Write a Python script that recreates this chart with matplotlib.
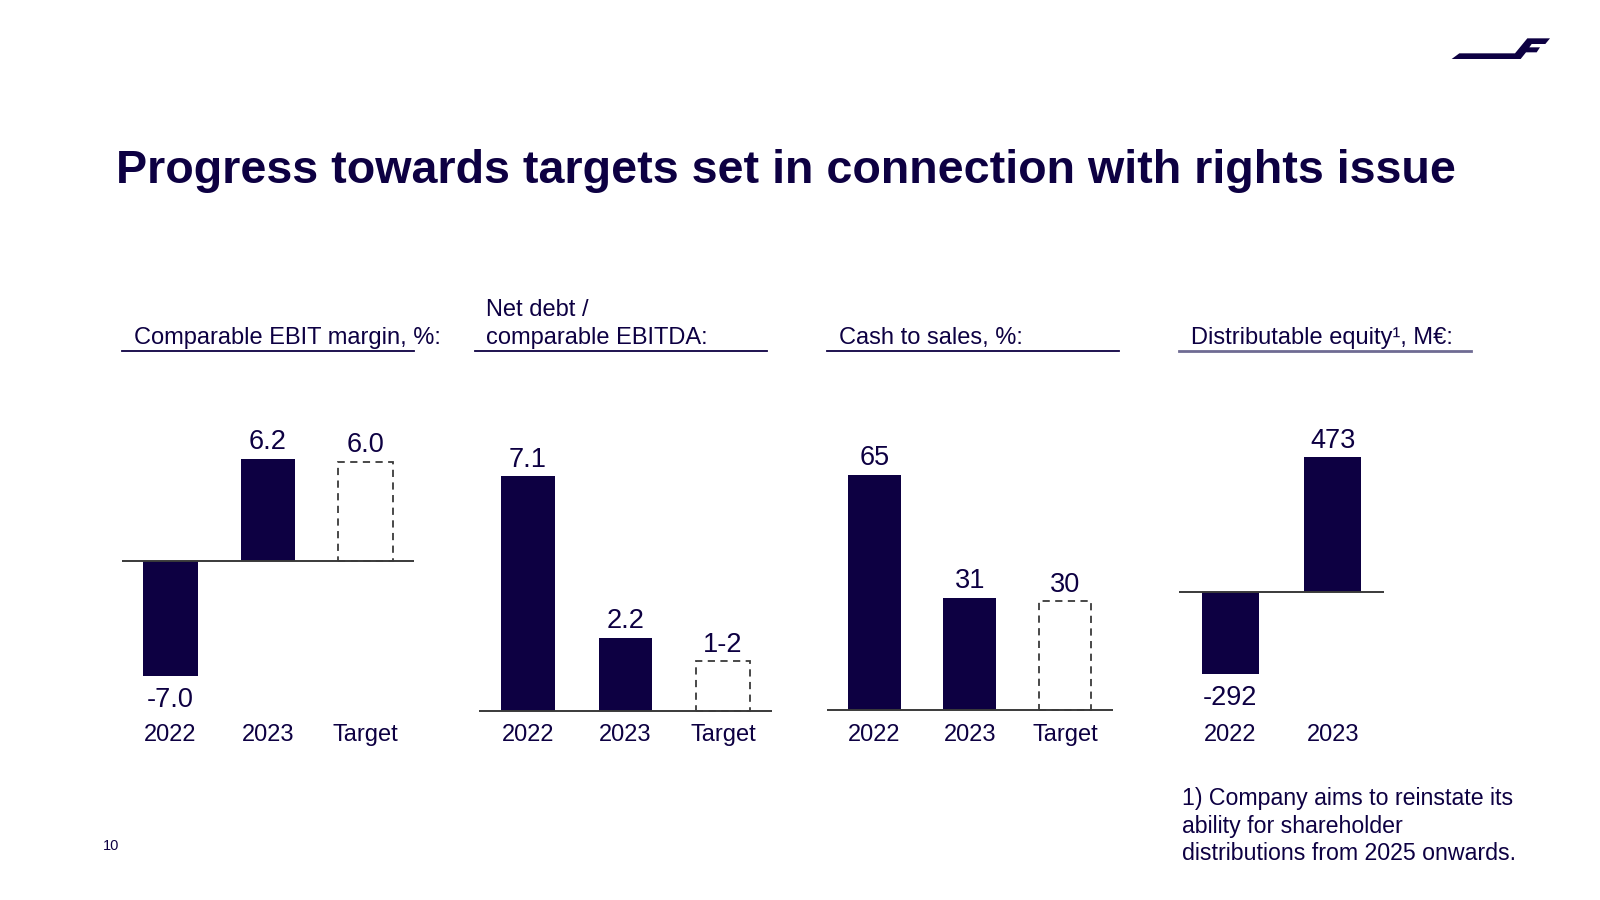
import matplotlib
matplotlib.use("Agg")
import matplotlib.pyplot as plt
from matplotlib.lines import Line2D
from matplotlib.patches import Polygon
from matplotlib.transforms import blended_transform_factory

plt.rcParams['font.family'] = ['Liberation Sans', 'DejaVu Sans']

NAVY = '#0d0042'
GREY = '#3a3a3a'

# --- data -------------------------------------------------------------
title = "Progress towards targets set in connection with rights issue"

headers = [
    ["Comparable EBIT margin, %:"],
    ["Net debt /", "comparable EBITDA:"],
    ["Cash to sales, %:"],
    ["Distributable equity\u00b9, M\u20ac:"],
]

ebit_years = ["2022", "2023", "Target"]
ebit_values = [-7.0, 6.2]
ebit_target = 6.0
ebit_labels = ["-7.0", "6.2", "6.0"]

debt_years = ["2022", "2023", "Target"]
debt_values = [7.1, 2.2]
debt_target = 1.5          # target range 1-2, box drawn at mid-point
debt_labels = ["7.1", "2.2", "1-2"]

cash_years = ["2022", "2023", "Target"]
cash_values = [65, 31]
cash_target = 30
cash_labels = ["65", "31", "30"]

equity_years = ["2022", "2023"]
equity_values = [-292, 473]
equity_labels = ["-292", "473"]

footnote = ["1) Company aims to reinstate its",
            "ability for shareholder",
            "distributions from 2025 onwards."]
page_number = "10"

# --- layout (pixels on a 1600x900 canvas) -----------------------------
W, H = 1600, 900
fig = plt.figure(figsize=(16, 9), dpi=100)
fig.patch.set_facecolor('white')


def fx(x):
    return x / W


def fy(y):
    return 1 - y / H


def make_axes(left, right, base, px_per_unit, top=380, bottom=770, n=3):
    ax = fig.add_axes([fx(left), fy(bottom), (right - left) / W, (bottom - top) / H])
    ax.set_xlim(-0.5, n - 0.5)
    ax.set_ylim(-(bottom - base) / px_per_unit, (base - top) / px_per_unit)
    ax.axis('off')
    ax.axhline(0, color=GREY, lw=1.4)
    return ax


def draw_panel(ax, years, values, labels, target=None, width=0.56):
    xs = list(range(len(values)))
    ax.bar(xs, values, width=width, color=NAVY, edgecolor='none')
    if target is not None:
        ax.bar(len(values), target, width=width, fill=False,
               edgecolor=GREY, linestyle=(0, (4, 3)), lw=1.3)
    tops = list(values) + ([target] if target is not None else [])
    for i, (v, lab) in enumerate(zip(tops, labels)):
        off = 9.5 if v >= 0 else -31
        ax.annotate(lab, xy=(i, v), xytext=(0, off), textcoords='offset pixels',
                    ha='center', va='baseline', fontsize=19.5, color=NAVY)
    tr = blended_transform_factory(ax.transData, fig.transFigure)
    for i, yr in enumerate(years):
        ax.text(i, fy(741), yr, transform=tr, ha='center', va='baseline',
                fontsize=17, color=NAVY)


ax1 = make_axes(121.7, 414, 560.5, 16.45)
draw_panel(ax1, ebit_years, ebit_values, ebit_labels, ebit_target)

ax2 = make_axes(479, 771.7, 710.5, 33.0)
draw_panel(ax2, debt_years, debt_values, debt_labels, debt_target, width=0.55)

ax3 = make_axes(826.7, 1112.7, 710, 3.62)
draw_panel(ax3, cash_years, cash_values, cash_labels, cash_target, width=0.555)

ax4 = make_axes(1179, 1384, 591.5, 0.2835, n=2)
draw_panel(ax4, equity_years, equity_values, equity_labels)

# headers with underline
header_x = [121.7, 474.5, 826.7, 1179]
for hx, lines, in zip(header_x, headers):
    for k, line in enumerate(reversed(lines)):
        fig.text(fx(hx + 12), fy(344 - k * 27.5), line, ha='left', va='baseline',
                 fontsize=17, color=NAVY)
    fig.add_artist(Line2D([fx(hx), fx(hx + 292)], [fy(351), fy(351)],
                          color=NAVY if hx < 1100 else '#6f6b93', lw=1.3 if hx < 1100 else 2.0))

# title
fig.text(fx(116), fy(183.3), title, ha='left', va='baseline', fontsize=33.6,
         fontweight='bold', color=NAVY)

# footnote and page number
for k, line in enumerate(footnote):
    fig.text(fx(1181.7), fy(805 + k * 27.7), line, ha='left', va='baseline',
             fontsize=16.7, color=NAVY)
fig.text(fx(102.5), fy(850), page_number, ha='left', va='baseline', fontsize=10.5, color=NAVY)

# logo
logo = [(35, 117), (58, 100), (225, 100), (262, 55), (330, 55), (316, 72),
        (275, 72), (268, 82), (300, 82), (290, 97), (258, 97), (242, 117)]
logo = [(fx(1440 + x / 3), fy(20 + y / 3)) for x, y in logo]
fig.add_artist(Polygon(logo, closed=True, transform=fig.transFigure,
                       facecolor=NAVY, edgecolor='none'))

fig.savefig("out.png", dpi=100)
